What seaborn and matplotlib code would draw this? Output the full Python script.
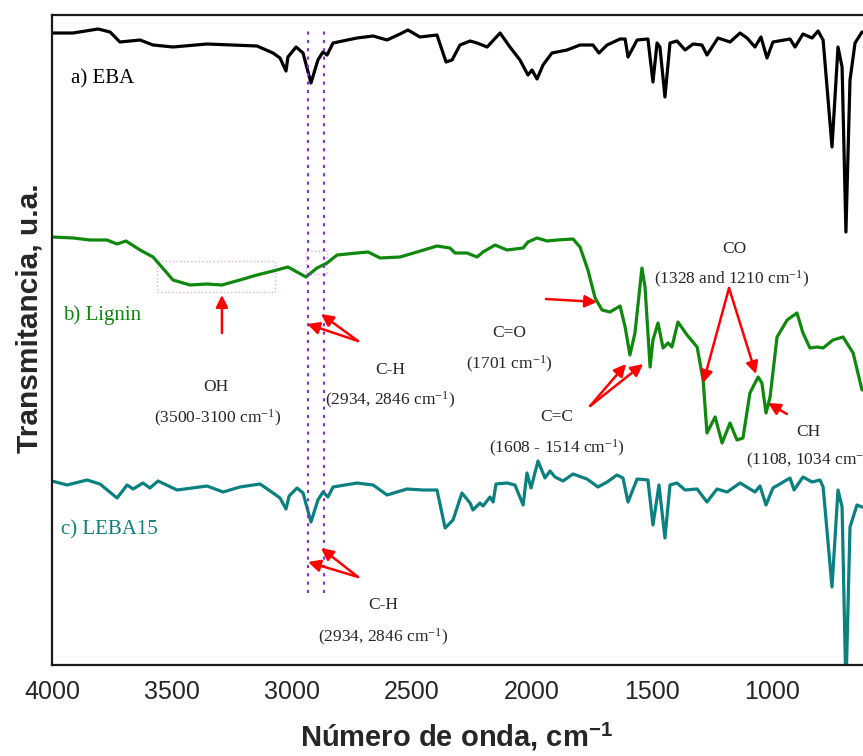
import matplotlib
matplotlib.use("Agg")
import numpy as np
import pandas as pd
import matplotlib.pyplot as plt
import seaborn as sns
from matplotlib.patches import Rectangle

# wavenumbers (cm-1) and transmittance (a.u., traces already offset)
eba_wn = [4000, 3912, 3808, 3758, 3717, 3633, 3579, 3496, 3354, 3146,
          3079, 3050, 3025, 3017, 2983, 2954, 2921, 2892, 2871, 2854,
          2829, 2729, 2662, 2604, 2550, 2517, 2467, 2396, 2358, 2333,
          2300, 2258, 2229, 2187, 2133, 2092, 2050, 2017, 2000, 1979,
          1954, 1917, 1854, 1800, 1746, 1721, 1687, 1633, 1612, 1600,
          1562, 1517, 1496, 1479, 1467, 1446, 1425, 1396, 1362, 1329,
          1292, 1271, 1225, 1175, 1133, 1104, 1071, 1046, 1021, 996,
          925, 904, 871, 833, 808, 787, 750, 725, 708, 692,
          675, 654, 625]
eba_t = [632, 632, 636, 633, 623, 625, 620, 618, 621, 619,
         612, 607, 594, 608, 618, 612, 582, 605, 613, 610,
         622, 627, 629, 625, 631, 635, 628, 630, 603, 605,
         620, 624, 622, 618, 632, 618, 605, 590, 595, 586,
         600, 612, 615, 620, 620, 612, 620, 626, 626, 608,
         625, 626, 583, 622, 618, 568, 622, 624, 615, 621,
         620, 610, 627, 623, 632, 627, 618, 628, 607, 623,
         626, 618, 631, 627, 634, 625, 518, 618, 598, 433,
         585, 622, 633]

lig_wn = [4000, 3912, 3842, 3771, 3729, 3692, 3633, 3579, 3521, 3496,
          3425, 3354, 3292, 3217, 3146, 3079, 3017, 2979, 2942, 2896,
          2854, 2812, 2729, 2683, 2633, 2550, 2479, 2396, 2342, 2321,
          2271, 2229, 2204, 2154, 2104, 2037, 2017, 1979, 1937, 1896,
          1829, 1800, 1767, 1737, 1708, 1675, 1633, 1612, 1592, 1571,
          1542, 1529, 1508, 1496, 1475, 1454, 1433, 1417, 1392, 1354,
          1312, 1287, 1271, 1237, 1208, 1175, 1146, 1121, 1092, 1058,
          1042, 1025, 1008, 979, 937, 896, 871, 842, 812, 787,
          746, 704, 662, 625]
lig_t = [428, 427, 425, 425, 421, 424, 415, 408, 392, 385,
         380, 381, 380, 385, 390, 394, 398, 393, 388, 397,
         402, 410, 412, 413, 407, 408, 413, 419, 417, 412,
         412, 408, 413, 420, 415, 417, 423, 427, 424, 425,
         426, 418, 395, 367, 355, 353, 359, 338, 310, 332,
         397, 378, 298, 325, 342, 317, 322, 318, 343, 330,
         318, 285, 232, 248, 222, 242, 225, 227, 272, 288,
         282, 252, 268, 328, 345, 352, 332, 317, 318, 317,
         325, 328, 312, 275]

leba_wn = [4000, 3937, 3854, 3800, 3729, 3687, 3662, 3621, 3592, 3558,
           3479, 3354, 3287, 3217, 3133, 3079, 3050, 3025, 3012, 2979,
           2954, 2921, 2892, 2871, 2850, 2829, 2729, 2662, 2604, 2521,
           2454, 2396, 2362, 2329, 2292, 2258, 2246, 2217, 2204, 2175,
           2162, 2150, 2104, 2071, 2037, 2021, 2004, 1975, 1946, 1925,
           1904, 1871, 1829, 1771, 1725, 1687, 1646, 1621, 1600, 1562,
           1517, 1496, 1471, 1446, 1425, 1396, 1362, 1312, 1271, 1229,
           1187, 1133, 1071, 1050, 1025, 996, 925, 908, 871, 833,
           800, 787, 750, 725, 708, 692, 675, 646, 625]
leba_t = [184, 180, 185, 181, 167, 180, 176, 182, 177, 184,
          175, 179, 173, 178, 181, 172, 167, 156, 169, 177,
          172, 143, 165, 173, 168, 178, 182, 180, 170, 176,
          175, 175, 137, 145, 172, 162, 155, 162, 159, 168,
          163, 181, 182, 180, 160, 192, 177, 204, 187, 194,
          188, 184, 191, 186, 178, 183, 190, 187, 163, 186,
          185, 140, 180, 127, 180, 182, 175, 176, 163, 176,
          173, 182, 173, 179, 160, 177, 187, 175, 188, 183,
          185, 178, 78, 175, 158, -25, 138, 160, 158]

samples = ["a) EBA", "b) Lignin", "c) LEBA15"]
colors = {"a) EBA": "black", "b) Lignin": "#0e890e", "c) LEBA15": "#0a8080"}
ch_lines = [2934, 2867]

df = pd.concat([
    pd.DataFrame({"wn": eba_wn, "T": eba_t, "sample": samples[0]}),
    pd.DataFrame({"wn": lig_wn, "T": lig_t, "sample": samples[1]}),
    pd.DataFrame({"wn": leba_wn, "T": leba_t, "sample": samples[2]}),
])

sns.set_style("white")
plt.rcParams["font.family"] = ["Liberation Sans", "DejaVu Sans"]
plt.rcParams["mathtext.fontset"] = "custom"
plt.rcParams["mathtext.rm"] = "Liberation Serif"
plt.rcParams["mathtext.it"] = "Liberation Serif:italic"
plt.rcParams["mathtext.bf"] = "Liberation Sans:bold"

fig = plt.figure(figsize=(8.63, 7.56), dpi=100)
ax = fig.add_axes([52 / 863, 91 / 756, 816 / 863, 650 / 756])

sns.lineplot(data=df, x="wn", y="T", hue="sample", palette=colors,
             estimator=None, linewidth=2.3, legend=False, ax=ax,
             solid_joinstyle="round")

ax.set_xlim(4000, 600)
ax.set_ylim(0, 650)
ax.set_xticks([4000, 3500, 3000, 2500, 2000, 1500, 1000])
ax.set_yticks([])
ax.tick_params(axis="x", length=0, pad=11, labelsize=18)
for s in ax.spines.values():
    s.set_linewidth(1.6)
    s.set_color("#1a1a1a")
ax.set_xlabel("")
ax.set_ylabel("")

fig.text(0.5 * (302 + 610) / 863, 1 - 737 / 756, r"Número de onda, cm$^{\mathbf{-1}}$",
         ha="center", va="center", fontsize=21, fontweight="bold")
fig.text(30 / 863, 1 - 453 / 756, "Transmitancia, u.a.", rotation=90,
         ha="center", va="bottom", fontsize=21.5, fontweight="bold")

# dotted C-H guide lines
for x in ch_lines:
    ax.plot([x, x], [72, 638], color="#8a2be2", ls=(0, (1.5, 2.5)), lw=1.5)

# highlight boxes
ax.add_patch(Rectangle((3562, 373), 3071 - 3562, 31, fill=False,
                       ec="#dcb0e6", ls=":", lw=1))
ax.add_patch(Rectangle((2942, 391), 2854 - 2942, 23, fill=False,
                       ec="#dcb0e6", ls=":", lw=1))

serif = ["Liberation Serif", "DejaVu Serif"]
for x, y, name in [(3921, 586, samples[0]), (3954, 350, samples[1]), (3962, 135, samples[2])]:
    ax.text(x, y, name, color=colors[name], fontsize=15, family=serif,
            ha="left", va="center")

notes = [
    (3317, 278, "OH"), (3312, 247, r"(3500-3100 cm$^{-1}$)"),
    (2592, 295, "C-H"), (2592, 265, r"(2934, 2846 cm$^{-1}$)"),
    (2096, 332, "C=O"), (2096, 301, r"(1701 cm$^{-1}$)"),
    (1896, 248, "C=C"), (1896, 217, r"(1608 - 1514 cm$^{-1}$)"),
    (1158, 416, "CO"), (1167, 386, r"(1328 and 1210 cm$^{-1}$)"),
    (850, 233, "CH"),
    (2621, 60, "C-H"), (2621, 28, r"(2934, 2846 cm$^{-1}$)"),
]
for x, y, t in notes:
    ax.text(x, y, t, fontsize=12.5, family=serif, ha="center", va="center")
ax.text(1108, 205, r"(1108, 1034 cm$^{-1}$)", fontsize=12.5, family=serif,
        ha="left", va="center")

arrows = [
    ((3292, 332), (3292, 370)),
    ((2725, 324), (2937, 341)), ((2725, 324), (2879, 351)),
    ((1942, 366), (1729, 363)),
    ((1758, 259), (1608, 301)), ((1758, 259), (1537, 301)),
    ((1179, 377), (1287, 282)), ((1179, 377), (1067, 291)),
    ((938, 251), (1017, 262)),
    ((2725, 88), (2933, 103)), ((2725, 88), (2879, 117)),
]
for tail, tip in arrows:
    ax.annotate("", xy=tip, xytext=tail,
                arrowprops=dict(arrowstyle="-|>", color="red", lw=1.8,
                                mutation_scale=18, shrinkA=0, shrinkB=0))

fig.savefig("out.png", dpi=100)
